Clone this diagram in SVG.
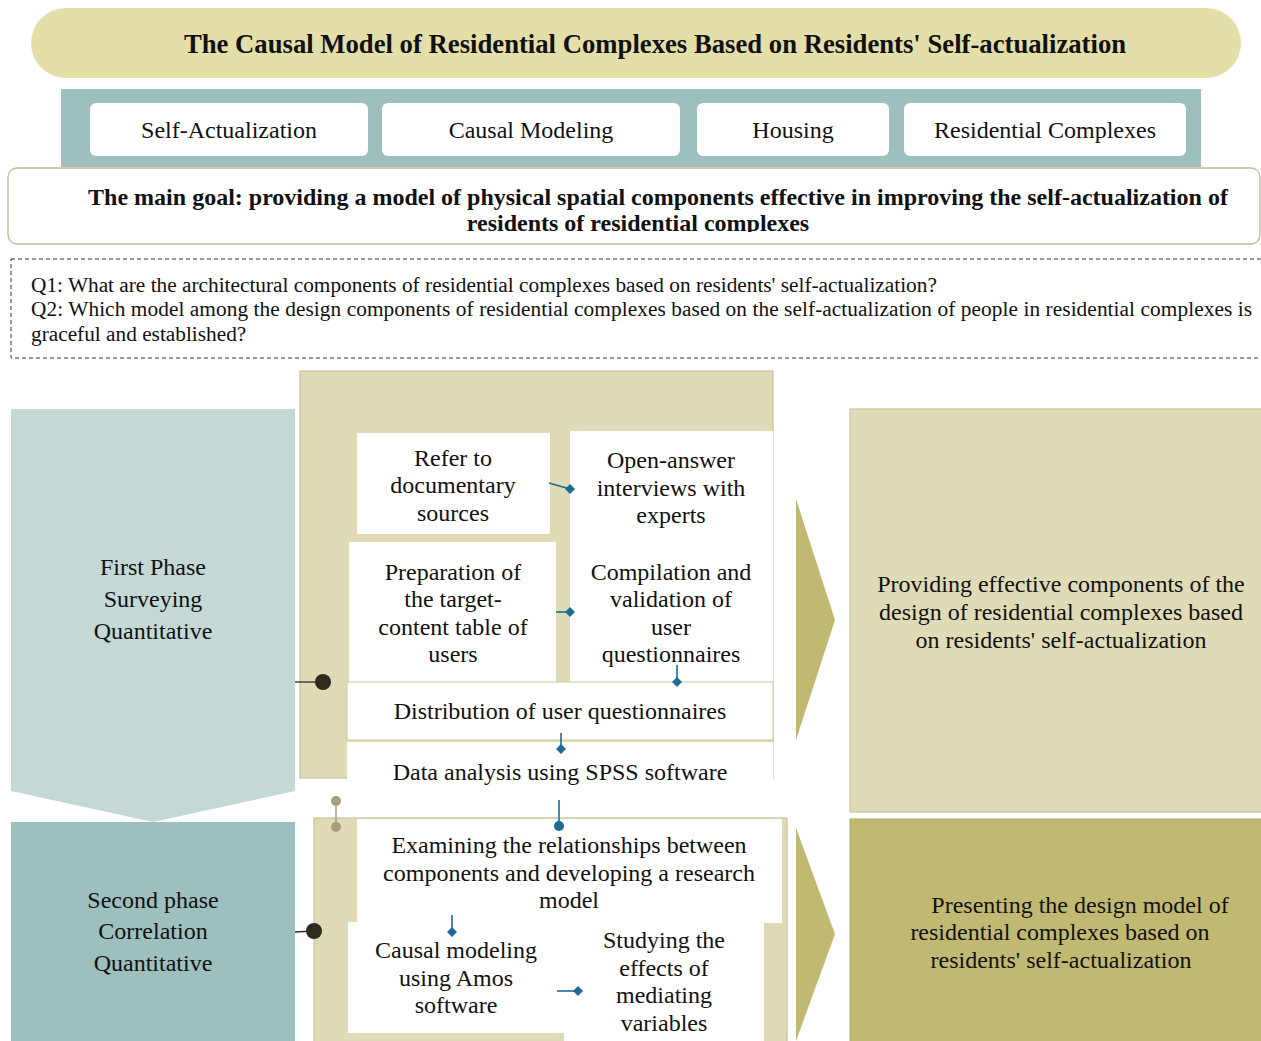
<svg xmlns="http://www.w3.org/2000/svg" width="1261" height="1041" viewBox="0 0 1261 1041">
  <style>
    text { font-family: "Liberation Serif", "Times New Roman", serif; fill: #111; }
    .title { font-size: 26.7px; font-weight: bold; text-anchor: middle; }
    .goal { font-size: 24px; font-weight: bold; text-anchor: middle; }
    .kw { font-size: 24px; text-anchor: middle; }
    .q { font-size: 21.3px; }
    .lbl { font-size: 24px; text-anchor: middle; }
    .tan { fill: #dfdbb7; stroke: #c9c39c; stroke-width: 1.2; }
    .white { fill: #ffffff; }
    .blue { stroke: #1b6c96; stroke-width: 1.6; fill: none; }
    .bluefill { fill: #1b6c96; }
    .olive { fill: #c1b971; }
  </style>
  <defs>
    <clipPath id="goalClip"><rect x="0" y="168" width="1261" height="64"/></clipPath>
  </defs>

  <rect width="1261" height="1041" fill="#ffffff"/>

  <!-- Title banner -->
  <g id="title">
    <rect x="31" y="8" width="1210" height="70" rx="35" ry="35" fill="#e4dfa8"/>
    <text class="title" x="655" y="53">The Causal Model of Residential Complexes Based on Residents' Self-actualization</text>
  </g>

  <!-- Keywords -->
  <g id="keywords">
    <rect x="61" y="89" width="1140" height="78" fill="#9dbfbd"/>
    <rect x="90" y="103" width="278" height="53" rx="6" fill="#ffffff"/>
    <rect x="382" y="103" width="298" height="53" rx="6" fill="#ffffff"/>
    <rect x="697" y="103" width="192" height="53" rx="6" fill="#ffffff"/>
    <rect x="904" y="103" width="282" height="53" rx="6" fill="#ffffff"/>
    <text class="kw" x="229" y="138">Self-Actualization</text>
    <text class="kw" x="531" y="138">Causal Modeling</text>
    <text class="kw" x="793" y="138">Housing</text>
    <text class="kw" x="1045" y="138">Residential Complexes</text>
  </g>

  <!-- Main goal -->
  <g id="goal">
    <rect x="8" y="168" width="1252" height="76" rx="9" ry="9" fill="#ffffff" stroke="#c4b994" stroke-width="1.3"/>
    <g clip-path="url(#goalClip)">
      <text class="goal" x="658" y="205">The main goal: providing a model of physical spatial components effective in improving the self-actualization of</text>
      <text class="goal" x="638" y="231">residents of residential complexes</text>
    </g>
  </g>

  <!-- Research questions -->
  <g id="questions">
    <rect x="11" y="259" width="1260" height="99" fill="none" stroke="#333" stroke-width="1" stroke-dasharray="4 3"/>
    <text class="q" x="31" y="292">Q1: What are the architectural components of residential complexes based on residents' self-actualization?</text>
    <text class="q" x="31" y="316" textLength="1221" lengthAdjust="spacing">Q2: Which model among the design components of residential complexes based on the self-actualization of people in residential complexes is</text>
    <text class="q" x="31" y="341">graceful and established?</text>
  </g>

  <!-- Phase one -->
  <g id="phase1">
    <path d="M11 409 H295 V791 L153 822 L11 791 Z" fill="#c4d8d6"/>
    <text class="lbl" x="153" y="575">First Phase</text>
    <text class="lbl" x="153" y="607">Surveying</text>
    <text class="lbl" x="153" y="639">Quantitative</text>
  </g>

  <!-- Phase two -->
  <g id="phase2">
    <rect x="11" y="822" width="284" height="219" fill="#9dbfbd"/>
    <text class="lbl" x="153" y="908">Second phase</text>
    <text class="lbl" x="153" y="939">Correlation</text>
    <text class="lbl" x="153" y="971">Quantitative</text>
  </g>

  <!-- Phase one steps -->
  <g id="steps1">
    <rect class="tan" x="300" y="371" width="473" height="407"/>
    <g id="refer">
      <rect class="white" x="357" y="433" width="193" height="101"/>
      <text class="lbl" x="453" y="466">Refer to</text>
      <text class="lbl" x="453" y="493">documentary</text>
      <text class="lbl" x="453" y="521">sources</text>
    </g>
    <g id="interviews">
      <rect class="white" x="570" y="431" width="203" height="251"/>
      <text class="lbl" x="671" y="468">Open-answer</text>
      <text class="lbl" x="671" y="496">interviews with</text>
      <text class="lbl" x="671" y="523">experts</text>
    </g>
    <g id="preparation">
      <rect class="white" x="349" y="542" width="207" height="140"/>
      <text class="lbl" x="453" y="580">Preparation of</text>
      <text class="lbl" x="453" y="607">the target-</text>
      <text class="lbl" x="453" y="635">content table of</text>
      <text class="lbl" x="453" y="662">users</text>
    </g>
    <g id="compilation">
      <text class="lbl" x="671" y="580">Compilation and</text>
      <text class="lbl" x="671" y="607">validation of</text>
      <text class="lbl" x="671" y="635">user</text>
      <text class="lbl" x="671" y="662">questionnaires</text>
    </g>
    <g id="distribution">
      <rect x="347" y="682" width="426" height="58" fill="#ffffff" stroke="#d6d0a8" stroke-width="1.2"/>
      <text class="lbl" x="560" y="719">Distribution of user questionnaires</text>
    </g>
    <g id="spss">
      <rect class="white" x="347" y="742" width="426" height="38"/>
      <text class="lbl" x="560" y="780">Data analysis using SPSS software</text>
    </g>
  </g>

  <!-- Phase two steps -->
  <g id="steps2">
    <rect class="tan" x="314" y="818" width="473" height="230"/>
    <g id="examining">
      <rect class="white" x="357" y="819" width="425" height="104"/>
      <text class="lbl" x="569" y="853">Examining the relationships between</text>
      <text class="lbl" x="569" y="881">components and developing a research</text>
      <text class="lbl" x="569" y="908">model</text>
    </g>
    <g id="amos">
      <rect class="white" x="348" y="922" width="217" height="111"/>
      <text class="lbl" x="456" y="958">Causal modeling</text>
      <text class="lbl" x="456" y="986">using Amos</text>
      <text class="lbl" x="456" y="1013">software</text>
    </g>
    <g id="mediating">
      <rect class="white" x="564" y="922" width="200" height="119"/>
      <text class="lbl" x="664" y="948">Studying the</text>
      <text class="lbl" x="664" y="976">effects of</text>
      <text class="lbl" x="664" y="1003">mediating</text>
      <text class="lbl" x="664" y="1031">variables</text>
    </g>
  </g>

  <!-- Outcomes -->
  <g id="outcome1">
    <polygon class="olive" points="796,499 835,620 796,740"/>
    <rect x="850" y="409" width="415" height="403" fill="#dfdbb7" stroke="#c9c39c" stroke-width="1.2"/>
    <text class="lbl" x="1061" y="592">Providing effective components of the</text>
    <text class="lbl" x="1061" y="620">design of residential complexes based</text>
    <text class="lbl" x="1061" y="648">on residents' self-actualization</text>
  </g>
  <g id="outcome2">
    <polygon class="olive" points="796,828 835,934 796,1041"/>
    <rect x="850" y="819" width="415" height="230" fill="#c1b971" stroke="#b3ab68" stroke-width="1"/>
    <text class="lbl" x="1080" y="913">Presenting the design model of</text>
    <text class="lbl" x="1060" y="940">residential complexes based on</text>
    <text class="lbl" x="1061" y="968">residents' self-actualization</text>
  </g>

  <!-- Connectors -->
  <g id="connectors">
    <line x1="295" y1="682" x2="323" y2="682" stroke="#2e2a1f" stroke-width="1.3"/>
    <circle cx="323" cy="682" r="8" fill="#2e2a1f"/>
    <line x1="295" y1="932" x2="314" y2="931" stroke="#2e2a1f" stroke-width="1.3"/>
    <circle cx="314" cy="931" r="8" fill="#2e2a1f"/>
    <line x1="336" y1="801" x2="336" y2="827" stroke="#a89c7e" stroke-width="1.5"/>
    <circle cx="336" cy="801" r="5" fill="#a89c7e"/>
    <circle cx="336" cy="827" r="5" fill="#a89c7e"/>

    <line class="blue" x1="549" y1="483" x2="570" y2="489"/>
    <polygon class="bluefill" points="570,484 575,489 570,494 565,489"/>
    <line class="blue" x1="556" y1="612" x2="570" y2="612"/>
    <polygon class="bluefill" points="570,607 575,612 570,617 565,612"/>
    <line class="blue" x1="677" y1="665" x2="677" y2="682"/>
    <polygon class="bluefill" points="677,677 682,682 677,687 672,682"/>
    <line class="blue" x1="561" y1="733" x2="561" y2="749"/>
    <polygon class="bluefill" points="561,744 566,749 561,754 556,749"/>
    <line class="blue" x1="559" y1="800" x2="559" y2="826"/>
    <circle class="bluefill" cx="559" cy="826" r="5"/>
    <line class="blue" x1="452" y1="915" x2="452" y2="932"/>
    <polygon class="bluefill" points="452,927 457,932 452,937 447,932"/>
    <line class="blue" x1="557" y1="991" x2="578" y2="991"/>
    <polygon class="bluefill" points="578,986 583,991 578,996 573,991"/>
  </g>
</svg>
